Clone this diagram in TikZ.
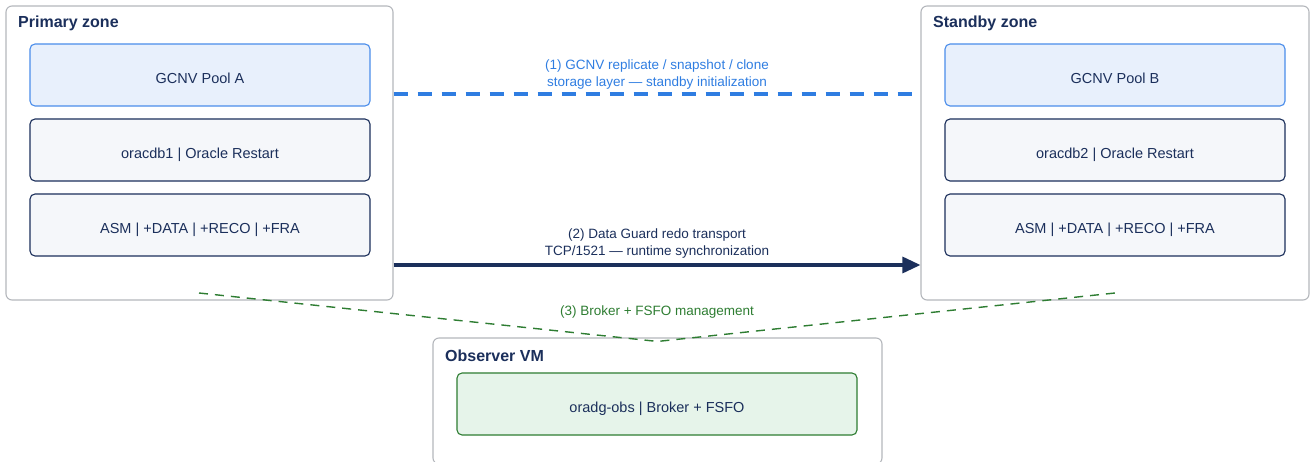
\documentclass[tikz,border=0pt]{standalone}
\usepackage{fontspec}
\setmainfont{Liberation Sans}
\usetikzlibrary{calc,arrows.meta}
\definecolor{navy}{HTML}{1B2F5B}
\definecolor{zoneline}{HTML}{B4B7BC}
\definecolor{bluel}{HTML}{2F7DE1}
\definecolor{bluefill}{HTML}{E8F0FC}
\definecolor{bluedraw}{HTML}{4A8DEB}
\definecolor{grayfill}{HTML}{F5F7FA}
\definecolor{greenl}{HTML}{2E7D32}
\definecolor{greenfill}{HTML}{E6F4EA}
\tikzset{
  zone/.style={draw=zoneline, line width=1.1pt, rounded corners=6pt, fill=white, minimum width=#1, minimum height=294pt, inner sep=0pt},
  ztitle/.style={anchor=west, font=\fontsize{16}{18}\selectfont\bfseries, text=navy, inner sep=0pt},
  comp/.style={draw=navy, line width=1.1pt, rounded corners=5pt, fill=grayfill, minimum width=340pt, minimum height=62pt, inner sep=0pt, text height=17pt, text depth=0pt, font=\fontsize{14.5}{17}\selectfont, text=navy},
  pool/.style={comp, draw=bluedraw, fill=bluefill},
  obsbox/.style={comp, draw=greenl, fill=greenfill, minimum width=400pt},
  lab/.style={font=\fontsize{13.5}{16.5}\selectfont, align=center, inner sep=0pt},
}
\begin{document}
\begin{tikzpicture}[x=1pt,y=-1pt]
\useasboundingbox (0,0) rectangle (1310,462);
% zones
\node[zone=387pt] (primary) at (199.5,153) {};
\node[zone=388pt] (standby) at (1115,153) {};
\node[zone=449pt, minimum height=126pt] (observer) at (657.5,401) {};
\node[ztitle] (ptitle) at (18,23.5) {Primary zone};
\node[ztitle] (stitle) at (933,23.5) {Standby zone};
\node[ztitle] (otitle) at (445,355.5) {Observer VM};
% components
\node[pool] (poolA) at (200,75) {GCNV Pool A};
\node[comp] (db1) at (200,150) {oracdb1 | Oracle Restart};
\node[comp] (asm1) at (200,225) {ASM | +DATA | +RECO | +FRA};
\node[pool] (poolB) at (1115,75) {GCNV Pool B};
\node[comp] (db2) at (1115,150) {oracdb2 | Oracle Restart};
\node[comp] (asm2) at (1115,225) {ASM | +DATA | +RECO | +FRA};
\node[obsbox] (obs) at (657,404) {oradg-obs | Broker + FSFO};
% connectors
\draw[bluel, line width=3.1pt, dash pattern=on 14pt off 10pt] (primary.east |- 0,94) -- (standby.west |- 0,94);
\node[lab, text=bluel] (l1) at (657,74.5) {(1) GCNV replicate / snapshot / clone\\storage layer — standby initialization};
\draw[navy, line width=3.2pt, -{Triangle[length=18pt,width=16pt]}] (primary.east |- 0,265) -- (standby.west |- 0,265);
\node[lab, text=navy] (l2) at (657,243.5) {(2) Data Guard redo transport\\TCP/1521 — runtime synchronization};
\coordinate (g1) at (199,293);
\coordinate (g2) at (1115,293);
\coordinate (gm) at ($(observer.north)+(0,4)$);
\draw[greenl, line width=1.4pt, dash pattern=on 9pt off 7pt] (g1) -- (gm) -- (g2);
\node[lab, text=greenl] (l3) at (657,312) {(3) Broker + FSFO management};
\end{tikzpicture}
\end{document}
